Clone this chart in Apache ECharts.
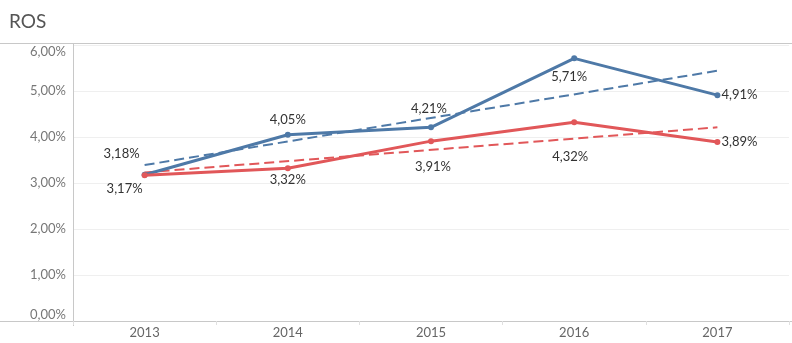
<!DOCTYPE html>
<html><head><meta charset="utf-8">
<script src="https://cdn.jsdelivr.net/npm/echarts@6/dist/echarts.min.js"></script>
<style>html,body{margin:0;padding:0;background:#fff}#c{width:792px;height:343px}</style>
</head><body><div id="c"></div>
<script>
const years = ['2013','2014','2015','2016','2017'];
const rosBlue = [3.18, 4.05, 4.21, 5.71, 4.91];
const rosRed = [3.17, 3.32, 3.91, 4.32, 3.89];
// trend line end values (first and last year)
const trendBlue = [3.39, null, null, null, 5.44];
const trendRed = [3.23, null, null, null, 4.21];
const yTicks = [0, 1, 2, 3, 4, 5, 6];

const blueOffsets = [[-23,-21],[0,-15],[-2,-19],[-5,18],[22,0]];
const redOffsets = [[-20,14],[0,12],[2,26],[-4,35],[22,0]];
const fmt = v => v.toFixed(2).replace('.', ',') + '%';
const FONT = 'Lato';
function pts(vals, offs) {
  return vals.map((v, i) => ({ value: v, label: { show: true, position: 'inside', offset: offs[i] } }));
}
const chart = echarts.init(document.getElementById('c'), null, { renderer: 'canvas' });
chart.setOption({
  animation: false,
  textStyle: { fontFamily: FONT },
  title: { text: 'ROS', left: 4, top: 7, textStyle: { fontFamily: FONT, fontSize: 19, fontWeight: 'normal', color: '#555' } },
  grid: { left: 73, right: 3, top: 45, bottom: 22 },
  xAxis: {
    type: 'category', data: years, boundaryGap: true,
    axisLine: { show: true, lineStyle: { color: '#c8c8c8', width: 1 } },
    axisTick: { show: true, length: 4, lineStyle: { color: '#e0e0e0' } },
    axisLabel: { color: '#666', fontSize: 13, margin: 5, fontFamily: FONT }
  },
  yAxis: {
    type: 'value', min: 0, max: 6, interval: 1,
    axisLine: { show: true, lineStyle: { color: '#c8c8c8' } },
    axisTick: { show: false },
    splitLine: { show: true, lineStyle: { color: '#efefef' } },
    axisLabel: {
      color: '#777', fontSize: 13, margin: 7, fontFamily: FONT,
      formatter: v => yTicks.includes(v) ? fmt(v) : '',
      verticalAlignMinLabel: 'bottom', verticalAlignMaxLabel: 'top'
    }
  },
  graphic: [
    { type: 'line', shape: { x1: 0, y1: 43.5, x2: 792, y2: 43.5 }, style: { stroke: '#c8c8c8', lineWidth: 1 }, silent: true },
    { type: 'line', shape: { x1: 0, y1: 321.5, x2: 792, y2: 321.5 }, style: { stroke: '#c8c8c8', lineWidth: 1 }, silent: true },
    { type: 'line', shape: { x1: 73.5, y1: 43, x2: 73.5, y2: 46 }, style: { stroke: '#c8c8c8', lineWidth: 1 }, silent: true },
    { type: 'line', shape: { x1: 73.5, y1: 321, x2: 73.5, y2: 326 }, style: { stroke: '#c8c8c8', lineWidth: 1 }, silent: true }
  ],
  series: [
    { name: 'trendBlue', type: 'line', data: trendBlue, connectNulls: true, showSymbol: false, symbol: 'none',
      lineStyle: { color: '#4e79a7', width: 2, type: [10, 5] }, z: 2 },
    { name: 'trendRed', type: 'line', data: trendRed, connectNulls: true, showSymbol: false, symbol: 'none',
      lineStyle: { color: '#e15759', width: 2, type: [10, 5] }, z: 2 },
    { name: 'blue', type: 'line', data: pts(rosBlue, blueOffsets), symbol: 'circle', symbolSize: 6,
      itemStyle: { color: '#4e79a7' }, lineStyle: { color: '#4e79a7', width: 3 },
      label: { color: '#333', fontSize: 13, fontFamily: FONT, formatter: p => fmt(p.value) }, z: 3 },
    { name: 'red', type: 'line', data: pts(rosRed, redOffsets), symbol: 'circle', symbolSize: 6,
      itemStyle: { color: '#e15759' }, lineStyle: { color: '#e15759', width: 3 },
      label: { color: '#333', fontSize: 13, fontFamily: FONT, formatter: p => fmt(p.value) }, z: 4 }
  ]
});
</script></body></html>
